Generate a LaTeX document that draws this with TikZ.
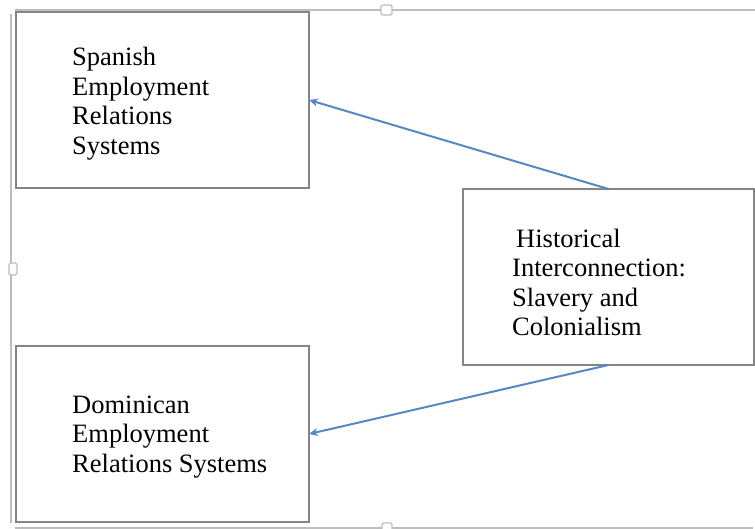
\documentclass[tikz,border=0pt]{standalone}
\usepackage{fontspec}
\setmainfont{Liberation Serif}
\usetikzlibrary{arrows.meta}
\definecolor{arrowblue}{HTML}{5589C4}
\definecolor{boxgray}{HTML}{858585}
\definecolor{framegray}{HTML}{BDBDBD}
\begin{document}
\begin{tikzpicture}[x=1pt,y=-1pt,
  box/.style={draw=boxgray, line width=1.6pt, fill=white, inner sep=0pt, outer sep=0pt, anchor=north west, minimum height=176pt},
  txt/.style={anchor=north west, inner sep=0pt, align=left, font=\fontsize{26.5}{29.5}\selectfont},
  frame/.style={draw=framegray, line width=1.3pt},
  handle/.style={draw=framegray, line width=1.2pt, fill=white, rounded corners=1.5pt},
  arr/.style={draw=arrowblue, line width=2pt, -{Stealth[length=9pt,width=8pt]}}]
\useasboundingbox (0,0) rectangle (755,529);
% outer frame
\draw[frame] (15,10) -- (755,10);
\draw[frame] (11,14) -- (11,523);
\draw[frame] (15,528) -- (753,528);
\draw[handle] (381,5) rectangle (392,15);
\draw[handle] (9,263) rectangle (17,275);
\draw[handle] (382,523) rectangle (392,531);
% boxes
\node[box, minimum width=293pt] (s) at (16,12) {};
\node[box, minimum width=293pt] (d) at (16,346) {};
\node[box, minimum width=291pt] (h) at (463,189) {};
% texts
\node[txt] (st) at (72,47) {Spanish\\Employment\\Relations\\Systems};
\node[txt] (dt) at (72,395.5) {Dominican\\Employment\\Relations Systems};
\node[txt] (ht) at (512,228.5) {\hspace*{4pt}Historical\\Interconnection:\\Slavery and\\Colonialism};
% connectors
\draw[arr] (h.north) -- (s.east);
\draw[arr] (h.south) -- (d.east);
\end{tikzpicture}
\end{document}
